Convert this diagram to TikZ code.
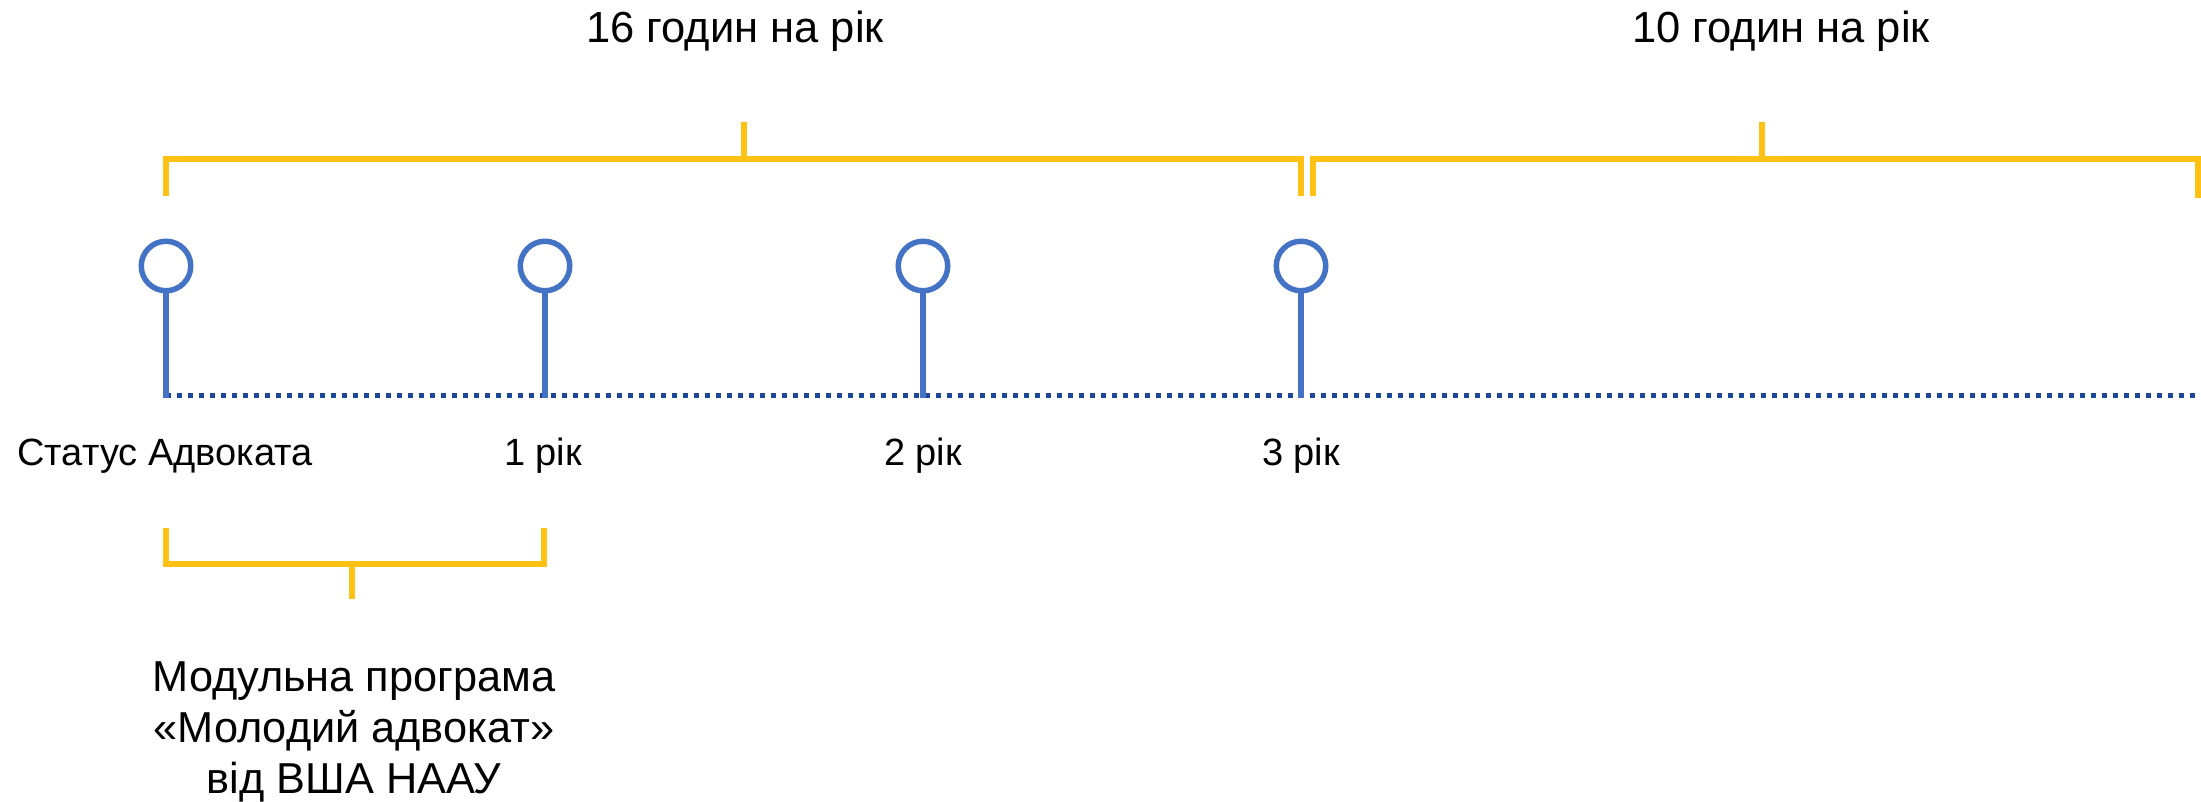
\documentclass[tikz,border=0pt]{standalone}
\usepackage{fontspec}
\setmainfont{Liberation Sans}
\definecolor{axisblue}{RGB}{28,71,153}
\definecolor{pinblue}{RGB}{68,114,196}
\definecolor{brk}{RGB}{255,194,20}
\begin{document}
\begin{tikzpicture}[x=1pt,y=-1pt,
  pinnode/.style={circle,draw=pinblue,line width=5.5pt,minimum size=49.5pt,inner sep=0pt},
  stemline/.style={draw=pinblue,line width=6pt,shorten >=-2.5pt},
  axisline/.style={draw=axisblue,line width=5pt,dash pattern=on 5pt off 6pt},
  bracketline/.style={draw=brk,line width=6pt,line join=miter},
  lbl/.style={font=\fontsize{38}{45}\selectfont,anchor=base,inner sep=0pt},
  toplbl/.style={font=\fontsize{43.5}{52}\selectfont,anchor=base,inner sep=0pt},
]
\useasboundingbox[fill=white] (0,0) rectangle (2201,802);

% axis
\coordinate (a0) at (166,395);
\coordinate (a1) at (545,395);
\coordinate (a2) at (923,395);
\coordinate (a3) at (1301,395);
\coordinate (aend) at (2201,395);
\draw[axisline] (a0) -- (aend);

% pins
\node[pinnode] (p0) at (166,266) {};
\node[pinnode] (p1) at (545,266) {};
\node[pinnode] (p2) at (923,266) {};
\node[pinnode] (p3) at (1301,266) {};
\draw[stemline] (p0.south) -- (a0);
\draw[stemline] (p1.south) -- (a1);
\draw[stemline] (p2.south) -- (a2);
\draw[stemline] (p3.south) -- (a3);

% axis labels
\node[lbl] (l0) at (165,465) {Статус Адвоката};
\node[lbl] (l1) at (543,465) {1 рік};
\node[lbl] (l2) at (923,465) {2 рік};
\node[lbl] (l3) at (1301,465) {3 рік};

% top bracket 1
\coordinate (b1a) at (166,196);
\coordinate (b1b) at (166,159);
\coordinate (b1c) at (1301,159);
\coordinate (b1d) at (1301,196);
\draw[bracketline] (b1a) -- (b1b) -- (b1c) -- (b1d);
\coordinate (t1a) at (744,159);
\coordinate (t1b) at (744,122);
\draw[bracketline] (t1a) -- (t1b);

% top bracket 2
\coordinate (b2a) at (1313,196);
\coordinate (b2b) at (1313,159);
\coordinate (b2c) at (2198,159);
\coordinate (b2d) at (2198,198);
\draw[bracketline] (b2a) -- (b2b) -- (b2c) -- (b2d);
\coordinate (t2a) at (1762,159);
\coordinate (t2b) at (1762,122);
\draw[bracketline] (t2a) -- (t2b);

% bottom bracket
\coordinate (b3a) at (166,528);
\coordinate (b3b) at (166,564);
\coordinate (b3c) at (544,564);
\coordinate (b3d) at (544,528);
\draw[bracketline] (b3a) -- (b3b) -- (b3c) -- (b3d);
\coordinate (t3a) at (352,564);
\coordinate (t3b) at (352,599);
\draw[bracketline] (t3a) -- (t3b);

% top labels
\node[toplbl] (h16) at (735,43) {16 годин на рік};
\node[toplbl] (h10) at (1781,43) {10 годин на рік};

% bottom text
\node[font=\fontsize{43.3}{51}\selectfont,align=center,anchor=north,inner sep=0pt] (mod) at (354,662)
  {Модульна програма\\«Молодий адвокат»\\від ВША НААУ};
\end{tikzpicture}
\end{document}
